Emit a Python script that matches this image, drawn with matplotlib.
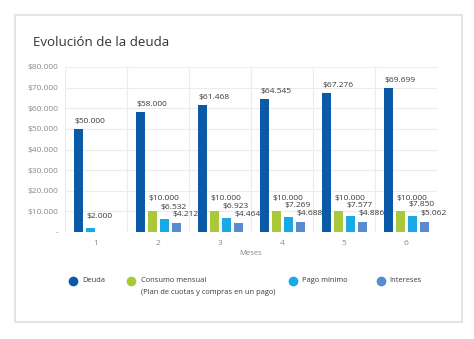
"""Evolución de la deuda: grouped bars per month."""

import matplotlib
matplotlib.use('Agg')
import matplotlib.pyplot as plt
from matplotlib.lines import Line2D
from matplotlib.patches import Rectangle
import numpy as np

plt.rcParams['font.family'] = ['Open Sans', 'DejaVu Sans']

months = [1, 2, 3, 4, 5, 6]
deuda = [50000, 58000, 61468, 64545, 67276, 69699]
consumo = [0, 10000, 10000, 10000, 10000, 10000]
pago_minimo = [2000, 6532, 6923, 7269, 7577, 7850]
intereses = [0, 4212, 4464, 4688, 4886, 5062]

series = [
    ('Deuda', deuda, '#0b5aa8'),
    ('Consumo mensual\n(Plan de cuotas y compras en un pago)', consumo, '#a9c93b'),
    ('Pago mínimo', pago_minimo, '#19aae6'),
    ('Intereses', intereses, '#5a8bd0'),
]
# how high each series' value label sits above its bar (points)
label_lift = [3.0, 6.5, 5.5, 3.5]
y_ticks = [0, 10000, 20000, 30000, 40000, 50000, 60000, 70000, 80000]


def money(v):
    if v == 0:
        return '-'
    return '$' + '{:,}'.format(int(v)).replace(',', '.')


fig = plt.figure(figsize=(4.74, 3.39), dpi=100)
fig.patch.set_facecolor('white')

# card border
fig.add_artist(Rectangle((15 / 474, 1 - 322 / 339), 447 / 474, 307 / 339,
                         transform=fig.transFigure, fill=False,
                         edgecolor='#e4e4e4', linewidth=1.5))

fig.text(33 / 474, 1 - 42 / 339, 'Evolución de la deuda', fontsize=9.6,
         color='#333333', va='center', ha='left')

ax = fig.add_axes([65 / 474, 1 - 232 / 339, 372 / 474, 165 / 339])

width = 0.145
step = 0.194
first = -1.5 * step + 0.015
for gi, m in enumerate(months):
    # empty values take no slot; the others are packed from the left
    slot = 0
    for si, (name, vals, color) in enumerate(series):
        v = vals[gi]
        if v == 0:
            continue
        xb = m + first + slot * step
        slot += 1
        ax.bar(xb, v, width=width, color=color, zorder=3)
        ax.annotate(money(v), (xb - width / 2, v),
                    xytext=(0, label_lift[si]), textcoords='offset points',
                    ha='left', va='bottom', fontsize=6.0, color='#3a3a3a',
                    zorder=4)

ax.set_xlim(0.5, 6.5)
ax.set_ylim(0, 80000)
ax.set_yticks(y_ticks)
ax.set_yticklabels([money(v) for v in y_ticks])
ax.set_xticks(months)
ax.set_xticklabels([str(m) for m in months])
ax.set_xticks(np.arange(0.5, 6.6, 1.0), minor=True)
ax.tick_params(axis='both', which='both', length=0, labelsize=6.0,
               labelcolor='#8a8a8a')
ax.tick_params(axis='y', pad=5)
ax.tick_params(axis='x', pad=6)
ax.grid(axis='y', color='#ececec', linewidth=0.8, zorder=0)
ax.grid(axis='x', which='minor', color='#ececec', linewidth=0.8, zorder=0)
for s in ax.spines.values():
    s.set_visible(False)
ax.axhline(0, color='#e6e6e6', linewidth=0.8, zorder=1)
ax.set_xlabel('Meses', fontsize=5.6, color='#8a8a8a', labelpad=2)

# legend
leg_y = 1 - 281 / 339
leg_items = [(73, 82), (131, 141), (293, 302), (381, 389)]
for (mx, tx), (name, vals, color) in zip(leg_items, series):
    fig.add_artist(Line2D([mx / 474], [leg_y], marker='o', markersize=6,
                          color=color, linestyle='none',
                          transform=fig.transFigure))
    lines = name.split('\n')
    fig.text(tx / 474, leg_y, lines[0], fontsize=5.4, color='#3a3a3a',
             va='center', ha='left')
    if len(lines) > 1:
        fig.text(tx / 474, 1 - 293 / 339, lines[1], fontsize=5.4,
                 color='#3a3a3a', va='center', ha='left')

fig.savefig('out.png', dpi=100, facecolor='white')
